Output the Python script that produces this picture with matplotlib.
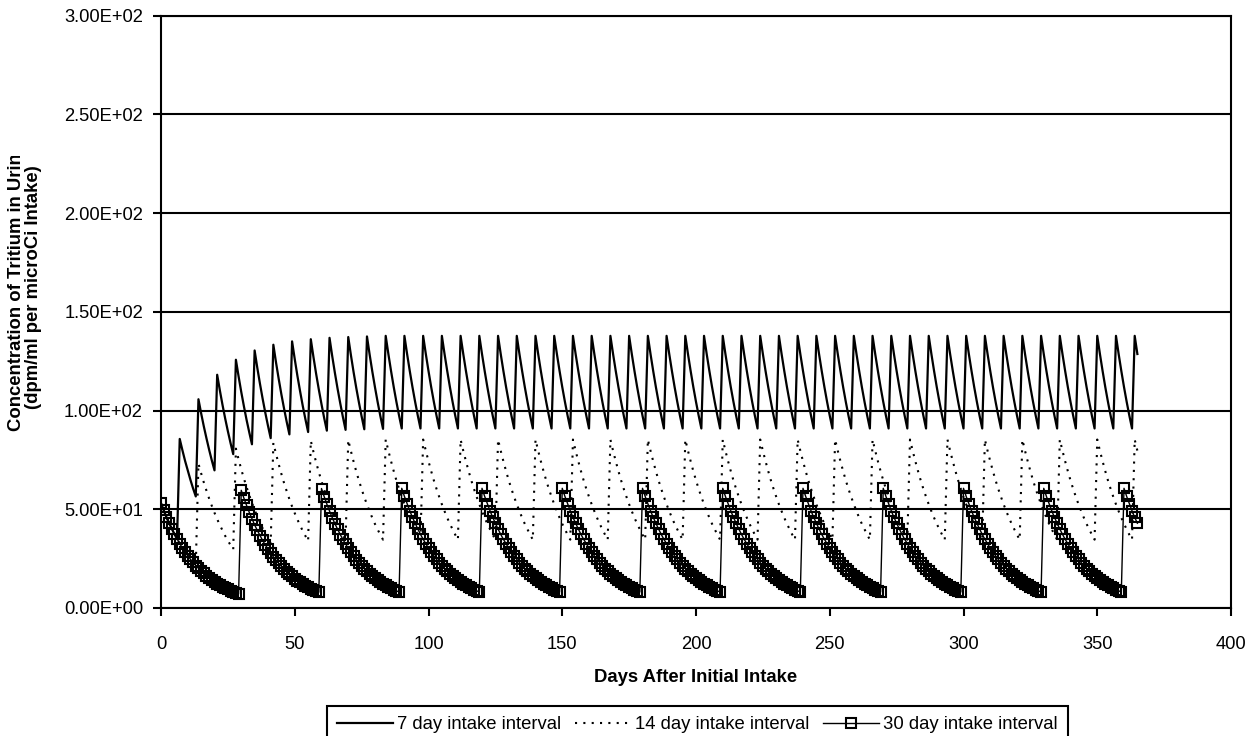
import numpy as np
import matplotlib
matplotlib.use("Agg")
import matplotlib.pyplot as plt
from matplotlib.ticker import FuncFormatter
from matplotlib.transforms import Bbox, TransformedBbox

plt.rcParams['font.family'] = ['Liberation Sans', 'DejaVu Sans']

# ---------------- data (one value per day) ----------------
days = list(range(366))

conc_7day = [
    53.0, 49.5, 46.1, 43.1, 40.2, 37.5, 35.0,
    85.6, 79.9, 74.5, 69.6, 64.9, 60.5, 56.5,
    105.7, 98.6, 92.0, 85.9, 80.1, 74.7, 69.7,
    118.1, 110.2, 102.8, 95.9, 89.5, 83.5, 77.9,
    125.7, 117.3, 109.4, 102.1, 95.2, 88.9, 82.9,
    130.4, 121.6, 113.5, 105.9, 98.8, 92.2, 86.0,
    133.3, 124.3, 116.0, 108.2, 101.0, 94.2, 87.9,
    135.0, 126.0, 117.5, 109.7, 102.3, 95.5, 89.1,
    136.1, 127.0, 118.5, 110.6, 103.2, 96.2, 89.8,
    136.8, 127.6, 119.1, 111.1, 103.7, 96.7, 90.2,
    137.2, 128.0, 119.4, 111.4, 104.0, 97.0, 90.5,
    137.5, 128.3, 119.7, 111.7, 104.2, 97.2, 90.7,
    # weeks 12-21
    137.8, 128.6, 120.0, 111.9, 104.4, 97.4, 90.9,
    137.8, 128.6, 120.0, 111.9, 104.4, 97.4, 90.9,
    137.8, 128.6, 120.0, 111.9, 104.4, 97.4, 90.9,
    137.8, 128.6, 120.0, 111.9, 104.4, 97.4, 90.9,
    137.8, 128.6, 120.0, 111.9, 104.4, 97.4, 90.9,
    137.8, 128.6, 120.0, 111.9, 104.4, 97.4, 90.9,
    137.8, 128.6, 120.0, 111.9, 104.4, 97.4, 90.9,
    137.8, 128.6, 120.0, 111.9, 104.4, 97.4, 90.9,
    137.8, 128.6, 120.0, 111.9, 104.4, 97.4, 90.9,
    137.8, 128.6, 120.0, 111.9, 104.4, 97.4, 90.9,
    # weeks 22-31
    137.8, 128.6, 120.0, 111.9, 104.4, 97.4, 90.9,
    137.8, 128.6, 120.0, 111.9, 104.4, 97.4, 90.9,
    137.8, 128.6, 120.0, 111.9, 104.4, 97.4, 90.9,
    137.8, 128.6, 120.0, 111.9, 104.4, 97.4, 90.9,
    137.8, 128.6, 120.0, 111.9, 104.4, 97.4, 90.9,
    137.8, 128.6, 120.0, 111.9, 104.4, 97.4, 90.9,
    137.8, 128.6, 120.0, 111.9, 104.4, 97.4, 90.9,
    137.8, 128.6, 120.0, 111.9, 104.4, 97.4, 90.9,
    137.8, 128.6, 120.0, 111.9, 104.4, 97.4, 90.9,
    137.8, 128.6, 120.0, 111.9, 104.4, 97.4, 90.9,
    # weeks 32-41
    137.8, 128.6, 120.0, 111.9, 104.4, 97.4, 90.9,
    137.8, 128.6, 120.0, 111.9, 104.4, 97.4, 90.9,
    137.8, 128.6, 120.0, 111.9, 104.4, 97.4, 90.9,
    137.8, 128.6, 120.0, 111.9, 104.4, 97.4, 90.9,
    137.8, 128.6, 120.0, 111.9, 104.4, 97.4, 90.9,
    137.8, 128.6, 120.0, 111.9, 104.4, 97.4, 90.9,
    137.8, 128.6, 120.0, 111.9, 104.4, 97.4, 90.9,
    137.8, 128.6, 120.0, 111.9, 104.4, 97.4, 90.9,
    137.8, 128.6, 120.0, 111.9, 104.4, 97.4, 90.9,
    137.8, 128.6, 120.0, 111.9, 104.4, 97.4, 90.9,
    # weeks 42-51
    137.8, 128.6, 120.0, 111.9, 104.4, 97.4, 90.9,
    137.8, 128.6, 120.0, 111.9, 104.4, 97.4, 90.9,
    137.8, 128.6, 120.0, 111.9, 104.4, 97.4, 90.9,
    137.8, 128.6, 120.0, 111.9, 104.4, 97.4, 90.9,
    137.8, 128.6, 120.0, 111.9, 104.4, 97.4, 90.9,
    137.8, 128.6, 120.0, 111.9, 104.4, 97.4, 90.9,
    137.8, 128.6, 120.0, 111.9, 104.4, 97.4, 90.9,
    137.8, 128.6, 120.0, 111.9, 104.4, 97.4, 90.9,
    137.8, 128.6, 120.0, 111.9, 104.4, 97.4, 90.9,
    137.8, 128.6, 120.0, 111.9, 104.4, 97.4, 90.9,
    # days 364-365
    137.8, 128.6,
]

conc_14day = [
    53.0, 49.5, 46.1, 43.1, 40.2, 37.5, 35.0, 32.6, 30.4, 28.4, 26.5, 24.7, 23.1, 21.5,
    73.1, 68.2, 63.6, 59.4, 55.4, 51.7, 48.2, 45.0, 42.0, 39.2, 36.5, 34.1, 31.8, 29.7,
    80.7, 75.3, 70.2, 65.5, 61.2, 57.1, 53.2, 49.7, 46.3, 43.2, 40.3, 37.6, 35.1, 32.8,
    83.6, 78.0, 72.8, 67.9, 63.3, 59.1, 55.1, 51.4, 48.0, 44.8, 41.8, 39.0, 36.4, 33.9,
    84.7, 79.0, 73.7, 68.8, 64.2, 59.9, 55.9, 52.1, 48.6, 45.4, 42.3, 39.5, 36.9, 34.4,
    85.1, 79.4, 74.1, 69.1, 64.5, 60.2, 56.1, 52.4, 48.9, 45.6, 42.5, 39.7, 37.0, 34.6,
    # cycles 6-15
    85.3, 79.6, 74.3, 69.3, 64.6, 60.3, 56.3, 52.5, 49.0, 45.7, 42.6, 39.8, 37.1, 34.6,
    85.3, 79.6, 74.3, 69.3, 64.6, 60.3, 56.3, 52.5, 49.0, 45.7, 42.6, 39.8, 37.1, 34.6,
    85.3, 79.6, 74.3, 69.3, 64.6, 60.3, 56.3, 52.5, 49.0, 45.7, 42.6, 39.8, 37.1, 34.6,
    85.3, 79.6, 74.3, 69.3, 64.6, 60.3, 56.3, 52.5, 49.0, 45.7, 42.6, 39.8, 37.1, 34.6,
    85.3, 79.6, 74.3, 69.3, 64.6, 60.3, 56.3, 52.5, 49.0, 45.7, 42.6, 39.8, 37.1, 34.6,
    85.3, 79.6, 74.3, 69.3, 64.6, 60.3, 56.3, 52.5, 49.0, 45.7, 42.6, 39.8, 37.1, 34.6,
    85.3, 79.6, 74.3, 69.3, 64.6, 60.3, 56.3, 52.5, 49.0, 45.7, 42.6, 39.8, 37.1, 34.6,
    85.3, 79.6, 74.3, 69.3, 64.6, 60.3, 56.3, 52.5, 49.0, 45.7, 42.6, 39.8, 37.1, 34.6,
    85.3, 79.6, 74.3, 69.3, 64.6, 60.3, 56.3, 52.5, 49.0, 45.7, 42.6, 39.8, 37.1, 34.6,
    85.3, 79.6, 74.3, 69.3, 64.6, 60.3, 56.3, 52.5, 49.0, 45.7, 42.6, 39.8, 37.1, 34.6,
    # cycles 16-25
    85.3, 79.6, 74.3, 69.3, 64.6, 60.3, 56.3, 52.5, 49.0, 45.7, 42.6, 39.8, 37.1, 34.6,
    85.3, 79.6, 74.3, 69.3, 64.6, 60.3, 56.3, 52.5, 49.0, 45.7, 42.6, 39.8, 37.1, 34.6,
    85.3, 79.6, 74.3, 69.3, 64.6, 60.3, 56.3, 52.5, 49.0, 45.7, 42.6, 39.8, 37.1, 34.6,
    85.3, 79.6, 74.3, 69.3, 64.6, 60.3, 56.3, 52.5, 49.0, 45.7, 42.6, 39.8, 37.1, 34.6,
    85.3, 79.6, 74.3, 69.3, 64.6, 60.3, 56.3, 52.5, 49.0, 45.7, 42.6, 39.8, 37.1, 34.6,
    85.3, 79.6, 74.3, 69.3, 64.6, 60.3, 56.3, 52.5, 49.0, 45.7, 42.6, 39.8, 37.1, 34.6,
    85.3, 79.6, 74.3, 69.3, 64.6, 60.3, 56.3, 52.5, 49.0, 45.7, 42.6, 39.8, 37.1, 34.6,
    85.3, 79.6, 74.3, 69.3, 64.6, 60.3, 56.3, 52.5, 49.0, 45.7, 42.6, 39.8, 37.1, 34.6,
    85.3, 79.6, 74.3, 69.3, 64.6, 60.3, 56.3, 52.5, 49.0, 45.7, 42.6, 39.8, 37.1, 34.6,
    85.3, 79.6, 74.3, 69.3, 64.6, 60.3, 56.3, 52.5, 49.0, 45.7, 42.6, 39.8, 37.1, 34.6,
    # days 364-365
    85.3, 79.6,
]

conc_30day = [
    53.0, 49.5, 46.1, 43.1, 40.2, 37.5, 35.0, 32.6, 30.4, 28.4, 26.5, 24.7, 23.1, 21.5, 20.1,
    18.7, 17.5, 16.3, 15.2, 14.2, 13.3, 12.4, 11.5, 10.8, 10.0, 9.4, 8.7, 8.2, 7.6, 7.1,
    59.6, 55.6, 51.9, 48.4, 45.2, 42.1, 39.3, 36.7, 34.2, 31.9, 29.8, 27.8, 25.9, 24.2, 22.6,
    21.1, 19.7, 18.3, 17.1, 16.0, 14.9, 13.9, 13.0, 12.1, 11.3, 10.5, 9.8, 9.2, 8.6, 8.0,
    60.5, 56.4, 52.6, 49.1, 45.8, 42.7, 39.9, 37.2, 34.7, 32.4, 30.2, 28.2, 26.3, 24.5, 22.9,
    21.4, 19.9, 18.6, 17.4, 16.2, 15.1, 14.1, 13.2, 12.3, 11.5, 10.7, 10.0, 9.3, 8.7, 8.1,
    60.6, 56.5, 52.8, 49.2, 45.9, 42.9, 40.0, 37.3, 34.8, 32.5, 30.3, 28.3, 26.4, 24.6, 23.0,
    21.4, 20.0, 18.7, 17.4, 16.2, 15.2, 14.1, 13.2, 12.3, 11.5, 10.7, 10.0, 9.3, 8.7, 8.1,
    60.6, 56.5, 52.8, 49.2, 45.9, 42.9, 40.0, 37.3, 34.8, 32.5, 30.3, 28.3, 26.4, 24.6, 23.0,
    21.4, 20.0, 18.7, 17.4, 16.2, 15.2, 14.1, 13.2, 12.3, 11.5, 10.7, 10.0, 9.3, 8.7, 8.1,
    60.6, 56.5, 52.8, 49.2, 45.9, 42.9, 40.0, 37.3, 34.8, 32.5, 30.3, 28.3, 26.4, 24.6, 23.0,
    21.4, 20.0, 18.7, 17.4, 16.2, 15.2, 14.1, 13.2, 12.3, 11.5, 10.7, 10.0, 9.3, 8.7, 8.1,
    60.6, 56.5, 52.8, 49.2, 45.9, 42.9, 40.0, 37.3, 34.8, 32.5, 30.3, 28.3, 26.4, 24.6, 23.0,
    21.4, 20.0, 18.7, 17.4, 16.2, 15.2, 14.1, 13.2, 12.3, 11.5, 10.7, 10.0, 9.3, 8.7, 8.1,
    60.6, 56.5, 52.8, 49.2, 45.9, 42.9, 40.0, 37.3, 34.8, 32.5, 30.3, 28.3, 26.4, 24.6, 23.0,
    21.4, 20.0, 18.7, 17.4, 16.2, 15.2, 14.1, 13.2, 12.3, 11.5, 10.7, 10.0, 9.3, 8.7, 8.1,
    60.6, 56.5, 52.8, 49.2, 45.9, 42.9, 40.0, 37.3, 34.8, 32.5, 30.3, 28.3, 26.4, 24.6, 23.0,
    21.4, 20.0, 18.7, 17.4, 16.2, 15.2, 14.1, 13.2, 12.3, 11.5, 10.7, 10.0, 9.3, 8.7, 8.1,
    60.6, 56.5, 52.8, 49.2, 45.9, 42.9, 40.0, 37.3, 34.8, 32.5, 30.3, 28.3, 26.4, 24.6, 23.0,
    21.4, 20.0, 18.7, 17.4, 16.2, 15.2, 14.1, 13.2, 12.3, 11.5, 10.7, 10.0, 9.3, 8.7, 8.1,
    60.6, 56.5, 52.8, 49.2, 45.9, 42.9, 40.0, 37.3, 34.8, 32.5, 30.3, 28.3, 26.4, 24.6, 23.0,
    21.4, 20.0, 18.7, 17.4, 16.2, 15.2, 14.1, 13.2, 12.3, 11.5, 10.7, 10.0, 9.3, 8.7, 8.1,
    60.6, 56.5, 52.8, 49.2, 45.9, 42.9, 40.0, 37.3, 34.8, 32.5, 30.3, 28.3, 26.4, 24.6, 23.0,
    21.4, 20.0, 18.7, 17.4, 16.2, 15.2, 14.1, 13.2, 12.3, 11.5, 10.7, 10.0, 9.3, 8.7, 8.1,
    # days 360-365
    60.6, 56.5, 52.8, 49.2, 45.9, 42.9,
]

series_labels = ["7 day intake interval", "14 day intake interval", "30 day intake interval"]
x_ticks = [0, 50, 100, 150, 200, 250, 300, 350, 400]
y_ticks = [0, 50, 100, 150, 200, 250, 300]
x_label = "Days After Initial Intake"
y_label = "Concentration of Tritium in Urine\n(dpm/ml per microCi Intake)"

# ---------------- figure ----------------
W, H = 1253, 736
FS = 13.3
fig = plt.figure(figsize=(W / 100, H / 100), dpi=100)
fig.patch.set_facecolor('white')
ax = fig.add_axes([161 / W, 1 - 608 / H, 1070 / W, (608 - 15.5) / H])

l7, = ax.plot(days, conc_7day, color='black', lw=1.6, label=series_labels[0], zorder=3)
l14, = ax.plot(days, conc_14day, color='black', lw=1.5, linestyle=(0, (1, 3)),
               label=series_labels[1], zorder=4)
l30, = ax.plot(days, conc_30day, color='black', lw=1.0, marker='s', ms=7.2,
               mfc='none', mec='black', mew=1.5, label=series_labels[2], zorder=5)

ax.set_xlim(x_ticks[0], x_ticks[-1])
ax.set_ylim(y_ticks[0], y_ticks[-1])
ax.set_xticks(x_ticks)
ax.set_yticks(y_ticks)
ax.yaxis.set_major_formatter(FuncFormatter(lambda v, p: f"{v:.2E}"))
ax.grid(axis='y', color='black', lw=1.5)
ax.grid(axis='x', visible=False)
ax.set_axisbelow(True)
for s in ax.spines.values():
    s.set_linewidth(1.5)
    s.set_color('black')
ax.tick_params(axis='x', direction='out', length=6, width=1.5, labelsize=13.2, pad=14)
ax.tick_params(axis='y', direction='out', length=6, width=1.5, labelsize=13.2, pad=7)

fig.text(696 / W, 1 - 677 / H, x_label, ha='center', va='center',
         fontsize=FS, fontweight='bold')

yl = fig.text(25 / W, 1 - 287 / H, y_label, rotation=90, ha='center', va='center',
              multialignment='center', fontsize=FS, fontweight='bold', linespacing=1.0)
yl.set_clip_box(TransformedBbox(Bbox([[0, 0], [1, 1 - 156 / H]]), fig.transFigure))
yl.set_clip_on(True)

leg = fig.legend(handles=[l7, l14, l30], labels=series_labels, loc='upper left',
                 bbox_to_anchor=(327 / W, 1 - 706 / H), ncol=3, fontsize=FS,
                 frameon=True, fancybox=False, edgecolor='black', framealpha=1,
                 handlelength=3.0, handletextpad=0.25, columnspacing=0.75,
                 borderpad=0.55, borderaxespad=0, numpoints=1)
leg.get_frame().set_linewidth(1.5)

fig.savefig("out.png", dpi=100)
